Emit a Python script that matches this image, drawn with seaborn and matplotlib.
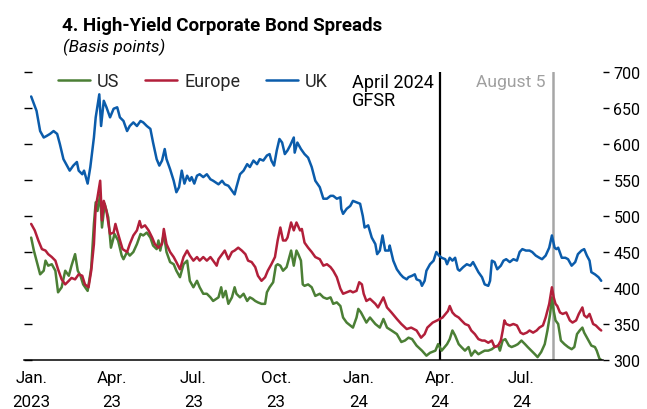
import matplotlib
matplotlib.use("Agg")
import matplotlib.pyplot as plt
import pandas as pd
import seaborn as sns

# ---------------- data (days since 2023-01-01, basis points) ----------------
start_date = "2023-01-01"

us_days = [0, 3, 6, 10, 14, 16, 19, 23, 27, 30, 34, 38, 42, 45, 49, 52, 55, 58, 63, 67,
           70, 72, 74, 77, 79, 82, 86, 89, 93, 97, 101, 103, 107, 110, 114, 118, 122, 125, 129, 133,
           136, 140, 142, 144, 148, 151, 155, 159, 162, 166, 170, 174, 177, 181, 185, 188, 192, 196, 200, 203,
           209, 212, 214, 217, 220, 224, 227, 229, 233, 237, 241, 244, 247, 250, 253, 257, 261, 263, 266, 270,
           273, 275, 278, 281, 285, 287, 290, 293, 296, 298, 301, 303, 305, 309, 313, 317, 322, 326, 330, 334,
           337, 341, 345, 348, 352, 356, 359, 363, 365, 368, 371, 374, 378, 384, 389, 393, 397, 402, 408, 413,
           417, 421, 425, 430, 436, 441, 445, 451, 454, 458, 464, 467, 470, 473, 477, 480, 484, 488, 491, 495,
           499, 503, 506, 510, 514, 517, 521, 523, 526, 529, 533, 536, 540, 543, 547, 551, 554, 558, 562, 565,
           569, 573, 576, 579, 581, 583, 585, 588, 591, 595, 599, 603, 606, 609, 612, 615, 617, 621, 625, 629,
           631, 634, 636]
us_vals = [470, 452, 438, 419, 424, 438, 431, 433, 424, 394, 401, 424, 417, 431, 447, 424, 417, 405, 396, 428,
           489, 519, 507, 530, 484, 517, 498, 456, 475, 466, 445, 440, 450, 445, 450, 461, 475, 473, 477, 470,
           459, 454, 466, 452, 475, 450, 436, 433, 424, 415, 433, 438, 410, 401, 410, 401, 392, 392, 387, 382,
           387, 401, 387, 396, 378, 387, 401, 392, 387, 392, 382, 387, 385, 382, 380, 378, 378, 394, 401, 408,
           431, 433, 431, 424, 429, 438, 452, 431, 452, 447, 438, 405, 403, 405, 401, 389, 392, 387, 385, 387,
           378, 380, 375, 359, 352, 348, 345, 359, 371, 366, 359, 352, 359, 350, 345, 357, 345, 341, 336, 325,
           327, 331, 329, 320, 313, 306, 310, 313, 322, 313, 322, 329, 341, 334, 322, 318, 313, 318, 306, 313,
           308, 311, 313, 313, 315, 318, 320, 313, 327, 329, 320, 318, 320, 322, 327, 322, 318, 313, 308, 304,
           311, 322, 341, 364, 387, 368, 355, 350, 327, 322, 318, 315, 318, 336, 341, 345, 338, 329, 320, 318,
           313, 302, 300]

eu_days = [0, 4, 8, 12, 16, 19, 23, 27, 30, 34, 38, 42, 45, 49, 53, 57, 60, 64, 67, 70,
           72, 74, 77, 79, 81, 84, 88, 92, 94, 97, 102, 107, 110, 114, 118, 121, 123, 127, 131, 135,
           138, 142, 146, 148, 151, 155, 159, 162, 166, 170, 174, 177, 181, 185, 188, 192, 196, 200, 203, 207,
           209, 213, 216, 220, 224, 227, 231, 235, 239, 242, 246, 250, 253, 257, 261, 264, 268, 272, 275, 278,
           281, 284, 286, 290, 293, 296, 300, 302, 305, 309, 313, 317, 322, 326, 330, 334, 337, 341, 345, 348,
           352, 356, 359, 363, 366, 369, 371, 374, 378, 384, 387, 393, 397, 402, 408, 413, 419, 424, 430, 435,
           439, 442, 448, 453, 459, 465, 467, 470, 473, 477, 480, 484, 488, 491, 495, 499, 503, 506, 510, 514,
           517, 521, 524, 526, 528, 530, 534, 538, 542, 546, 549, 553, 556, 560, 564, 567, 571, 574, 578, 581,
           583, 585, 587, 590, 593, 597, 601, 604, 608, 611, 615, 617, 620, 623, 627, 630, 634, 636]
eu_vals = [489, 480, 466, 454, 452, 447, 443, 438, 426, 412, 405, 410, 414, 412, 419, 417, 405, 401, 424, 461,
           512, 526, 549, 494, 521, 507, 475, 477, 489, 475, 454, 450, 461, 473, 480, 493, 484, 487, 480, 470,
           461, 456, 461, 482, 461, 450, 443, 436, 426, 443, 452, 445, 438, 443, 438, 443, 438, 443, 438, 431,
           440, 447, 452, 440, 450, 452, 456, 452, 447, 438, 436, 429, 417, 410, 415, 424, 433, 443, 466, 484,
           466, 466, 470, 491, 480, 491, 480, 482, 463, 456, 450, 443, 440, 431, 433, 429, 424, 415, 399, 392,
           394, 396, 394, 396, 408, 405, 392, 382, 385, 378, 373, 387, 373, 366, 357, 350, 343, 345, 341, 331,
           336, 345, 352, 355, 359, 368, 375, 366, 362, 359, 355, 350, 348, 341, 336, 329, 327, 327, 324, 327,
           318, 320, 327, 340, 355, 350, 348, 350, 348, 338, 336, 338, 341, 338, 341, 345, 348, 359, 378, 401,
           387, 378, 375, 366, 364, 366, 355, 352, 355, 364, 373, 362, 359, 364, 350, 348, 343, 341]

uk_days = [0, 6, 10, 14, 17, 21, 25, 29, 32, 36, 40, 43, 47, 51, 53, 57, 59, 63, 66, 70,
           72, 76, 78, 81, 84, 88, 92, 96, 99, 103, 107, 110, 114, 118, 122, 125, 129, 133, 136, 140,
           143, 146, 149, 151, 155, 159, 162, 165, 168, 171, 174, 177, 179, 182, 185, 188, 192, 196, 200, 203,
           209, 213, 216, 220, 224, 227, 229, 233, 237, 241, 244, 248, 252, 255, 259, 263, 266, 268, 271, 274,
           277, 280, 283, 286, 289, 293, 294, 297, 301, 305, 309, 313, 317, 322, 326, 330, 334, 337, 341, 345,
           346, 348, 352, 356, 359, 363, 367, 370, 372, 376, 380, 384, 386, 389, 392, 395, 399, 400, 404, 408,
           412, 415, 419, 421, 425, 428, 430, 434, 436, 439, 441, 445, 449, 452, 455, 458, 462, 464, 467, 470,
           473, 476, 478, 482, 486, 490, 493, 496, 499, 503, 506, 510, 512, 514, 517, 520, 524, 527, 530, 534,
           538, 542, 545, 548, 552, 556, 559, 563, 567, 570, 574, 578, 581, 584, 586, 588, 592, 596, 599, 603,
           607, 610, 614, 617, 620, 623, 625, 629, 633, 636]
uk_vals = [666, 646, 618, 609, 611, 614, 618, 614, 600, 579, 570, 563, 570, 575, 563, 558, 563, 545, 568, 609,
           637, 669, 625, 660, 651, 637, 649, 651, 637, 632, 618, 625, 630, 625, 632, 630, 625, 621, 602, 579,
           570, 577, 593, 579, 565, 549, 533, 540, 563, 545, 556, 549, 554, 545, 556, 558, 554, 558, 551, 549,
           544, 549, 544, 542, 535, 530, 540, 558, 563, 572, 568, 577, 572, 579, 577, 584, 586, 577, 570, 591,
           607, 602, 586, 591, 598, 609, 588, 602, 593, 586, 581, 568, 549, 540, 524, 524, 528, 528, 524, 526,
           510, 503, 510, 514, 521, 519, 517, 500, 484, 487, 470, 461, 447, 452, 473, 452, 452, 459, 438, 426,
           419, 415, 412, 415, 417, 419, 412, 410, 403, 410, 424, 433, 438, 450, 445, 442, 440, 433, 442, 438,
           442, 426, 424, 429, 433, 431, 436, 429, 422, 415, 405, 403, 410, 438, 436, 426, 431, 438, 440, 436,
           440, 438, 450, 454, 452, 452, 450, 445, 442, 440, 445, 456, 473, 456, 454, 456, 442, 442, 440, 431,
           436, 447, 452, 454, 445, 438, 422, 419, 415, 410]

series_names = ["US", "Europe", "UK"]
series_colors = ["#4b7f35", "#b21f3a", "#0b5cab"]

x_tick_dates = ["2023-01-01", "2023-04-01", "2023-07-01", "2023-10-01",
                "2024-01-01", "2024-04-01", "2024-07-01"]
x_tick_labels = ["Jan.\n2023", "Apr.\n23", "Jul.\n23", "Oct.\n23",
                 "Jan.\n24", "Apr.\n24", "Jul.\n24"]
y_ticks = [300, 350, 400, 450, 500, 550, 600, 650, 700]

gfsr_date = "2024-04-01"
aug5_date = "2024-08-05"
x_min, x_max = "2022-12-24", "2024-09-30"

# ---------------- style ----------------
sns.set_theme(style="white")
plt.rcParams["font.family"] = ["Roboto", "DejaVu Sans"]

fig = plt.figure(figsize=(6.47, 4.10), dpi=100)
ax = fig.add_axes([24 / 647, 1 - 361 / 410, (603 - 24) / 647, (361 - 73) / 410])

start = pd.Timestamp(start_date)
all_days = [us_days, eu_days, uk_days]
all_vals = [us_vals, eu_vals, uk_vals]
for name, days, vals, col in zip(series_names, all_days, all_vals, series_colors):
    df = pd.DataFrame({"date": start + pd.to_timedelta(days, unit="D"), "value": vals})
    sns.lineplot(data=df, x="date", y="value", ax=ax, color=col, lw=1.8,
                 label=name, legend=False, estimator=None)

ax.set_xlim(pd.Timestamp(x_min), pd.Timestamp(x_max))
ax.set_ylim(300, 700)
ax.set_xlabel("")
ax.set_ylabel("")

ax.axvline(pd.Timestamp(gfsr_date), color="black", lw=1.6, zorder=1)
ax.axvline(pd.Timestamp(aug5_date), color="#a6a6a6", lw=1.8, zorder=1)

for s in ["top", "left", "right"]:
    ax.spines[s].set_visible(False)
ax.spines["bottom"].set_color("black")
ax.spines["bottom"].set_linewidth(1.1)

ax.set_xticks([pd.Timestamp(d) for d in x_tick_dates])
ax.set_xticklabels(x_tick_labels, fontsize=12.2)
for lbl in ax.get_xticklabels():
    lbl.set_linespacing(1.7)
ax.tick_params(axis="x", direction="in", length=5, width=1, color="black", pad=7.5,
               labelcolor="black")
ax.set_yticks(y_ticks)
ax.tick_params(axis="y", direction="in", length=6, width=1, color="black",
               left=True, right=False, labelleft=False)

ax2 = ax.twinx()
ax2.set_ylim(300, 700)
ax2.set_yticks(y_ticks)
ax2.set_yticklabels([str(v) for v in y_ticks], fontsize=11.5)
ax2.tick_params(axis="y", direction="out", length=4.5, width=1, color="black", pad=3,
                right=True, left=False, labelright=True, labelleft=False, labelcolor="black")
for s in ["top", "left", "right", "bottom"]:
    ax2.spines[s].set_visible(False)
ax2.grid(False)
ax.grid(False)

handles = ax.get_lines()[:3]
ax.legend(handles, series_names, loc="center left", bbox_to_anchor=(0.0587, 0.969),
          ncol=3, frameon=False, handlelength=1.75, handletextpad=0.4, columnspacing=1.45,
          borderpad=0, borderaxespad=0, fontsize=13)

ax.annotate("April 2024\nGFSR", xy=(pd.Timestamp(gfsr_date), 700), xycoords="data",
            xytext=(-4.5, -1), textcoords="offset points", ha="right", va="top",
            multialignment="left", fontsize=13, linespacing=1.0, color="black")
ax.annotate("August 5", xy=(pd.Timestamp(aug5_date), 700), xycoords="data",
            xytext=(-5, -1.5), textcoords="offset points", ha="right", va="top",
            fontsize=12.6, color="#a0a0a0")

fig.text(62 / 647, 1 - 31 / 410, "4. High-Yield Corporate Bond Spreads",
         fontsize=13.5, fontweight="bold", va="baseline", color="black")
fig.text(63 / 647, 1 - 52 / 410, "(Basis points)", fontsize=12.3, style="italic",
         va="baseline", color="black")

fig.savefig("out.png", dpi=100)
